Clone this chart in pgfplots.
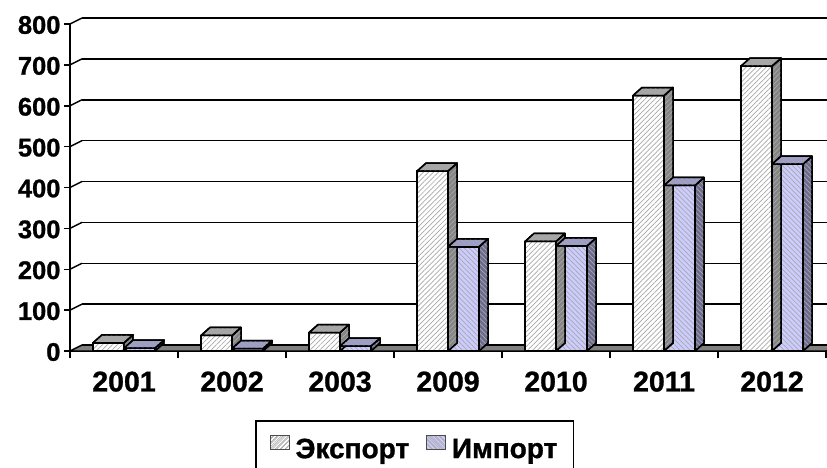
\documentclass[border=0pt]{standalone}
\usepackage{pgfplots}
\pgfplotsset{compat=1.18}
\usepackage{fontspec}
\setmainfont{Liberation Sans}[BoldFeatures={FakeBold=1}]
\usetikzlibrary{patterns.meta}
\newcommand\yfont{\fontsize{25.5}{30}\selectfont\bfseries}
\newcommand\legfont{\fontsize{28}{32}\selectfont\bfseries}
\newcommand\xfont{\fontsize{28.5}{32}\selectfont\bfseries}
\pgfdeclareplotmark{none3d}{}
\definecolor{expTop}{HTML}{A6A6A6}
\definecolor{expSide}{HTML}{858585}
\definecolor{impFront}{HTML}{CCCCFF}
\definecolor{impTop}{HTML}{9C9CCB}
\definecolor{impSide}{HTML}{6B6B8F}
\definecolor{floorC}{HTML}{808080}
\definecolor{hatch}{HTML}{A8A8A8}

\pgfplotsset{
  bar3d/.style n args={5}{%
    scatter, only marks, mark=none3d, forget plot,
    visualization depends on={rawy \as \ry},
    scatter/@pre marker code/.code={%
      \pgfmathsetmacro\hh{\ry*0.40875}%
      \filldraw[fill=#4, draw=black, line width=1.5pt, line join=round,
        postaction={pattern={Lines[angle=#5,distance=3.5pt,line width=0.7pt]}, pattern color=hatch}]
        (#2,0pt) -- ++(9pt,8pt) -- ++(0pt,-\hh pt) -- (#2,-\hh pt) -- cycle;
      \filldraw[fill=#3, draw=black, line width=1.5pt, line join=round,
        postaction={pattern={Lines[angle=#5,distance=3.5pt,line width=0.7pt]}, pattern color=hatch}]
        (#1,0pt) -- (#2,0pt) -- ++(9pt,8pt) -- ++(-31pt,0pt) -- cycle;
    },
    scatter/@post marker code/.code={},
  }
}

\begin{document}
\begin{tikzpicture}
\useasboundingbox (-70pt,-116pt) rectangle (757pt,351pt);
\begin{axis}[
  at={(0pt,0pt)}, anchor=south west,
  x=108pt, y=0.40875pt,
  xmin=-0.5, xmax=6.5, ymin=0, ymax=800,
  axis x line*=bottom, axis y line*=left,
  axis line style={line width=1.5pt, black},
  xtick={0,...,6}, xticklabels={2001,2002,2003,2009,2010,2011,2012},
  xtick style={draw=none},
  ytick={0,100,...,800},
  ytick style={line width=1.5pt, black},
  tick align=outside, major tick length=6pt,
  ymajorgrids, major grid style={line width=1.5pt, black, xshift=12pt, yshift=6pt},
  yticklabel style={font=\yfont, xshift=0pt, yshift=-1pt},
  xticklabel style={font=\xfont, yshift=-11pt},
  /pgf/number format/assume math mode=true,
  clip=false,
  legend style={at={(0.4557,0)}, anchor=north, yshift=-69pt, draw=black, line width=1.5pt,
    legend columns=2, font=\legfont, inner xsep=14pt, inner ysep=14pt,
    /tikz/every odd column/.append style={column sep=4pt},
    /tikz/every even column/.append style={column sep=15pt}},
  legend cell align=left,
]
\filldraw[fill=floorC, line width=1.5pt, line join=round]
  (axis cs:-0.5,0) -- (axis cs:6.5,0) -- ++(12pt,6pt) -- ++(-756pt,0pt) -- cycle;
\pgfplotsinvokeforeach{100,200,300,400,500,600,700,800}{
  \draw[line width=1.5pt] (axis cs:-0.5,#1) -- ++(12pt,6pt);
}
\pgfplotsinvokeforeach{-0.5,0.5,1.5,2.5,3.5,4.5,5.5,6.5}{
  \draw[line width=1.5pt] (axis cs:#1,0) -- ++(0pt,-7pt);
}

\addplot[ybar, bar width=31pt, bar shift=-15.5pt, fill=white, draw=black, line width=1.5pt,
  postaction={pattern={Lines[angle=45,distance=3.5pt,line width=0.7pt]}, pattern color=hatch},
  legend image code/.code={\filldraw[fill=white, draw=black!70, line width=0.8pt,
    postaction={pattern={Lines[angle=45,distance=3pt,line width=0.6pt]}, pattern color=hatch}]
    (0pt,0pt) rectangle (19pt,14pt);}]
  coordinates {(0,20) (1,38) (2,45) (3,440) (4,268) (5,625) (6,697)};
\addlegendentry{Экспорт}
\addplot[bar3d={-31pt}{0pt}{expTop}{expSide}{45}]
  coordinates {(0,20) (1,38) (2,45) (3,440) (4,268) (5,625) (6,697)};

\addplot[ybar, bar width=31pt, bar shift=15.5pt, fill=impFront, draw=black, line width=1.5pt,
  postaction={pattern={Lines[angle=-45,distance=3.5pt,line width=0.7pt]}, pattern color=hatch},
  legend image code/.code={\filldraw[fill=impFront, draw=black!70, line width=0.8pt,
    postaction={pattern={Lines[angle=-45,distance=3pt,line width=0.6pt]}, pattern color=hatch}]
    (0pt,0pt) rectangle (19pt,14pt);}]
  coordinates {(0,7) (1,6) (2,12) (3,255) (4,257) (5,405) (6,457)};
\addlegendentry{Импорт}
\addplot[bar3d={0pt}{31pt}{impTop}{impSide}{-45}]
  coordinates {(0,7) (1,6) (2,12) (3,255) (4,257) (5,405) (6,457)};
\end{axis}
\end{tikzpicture}
\end{document}
